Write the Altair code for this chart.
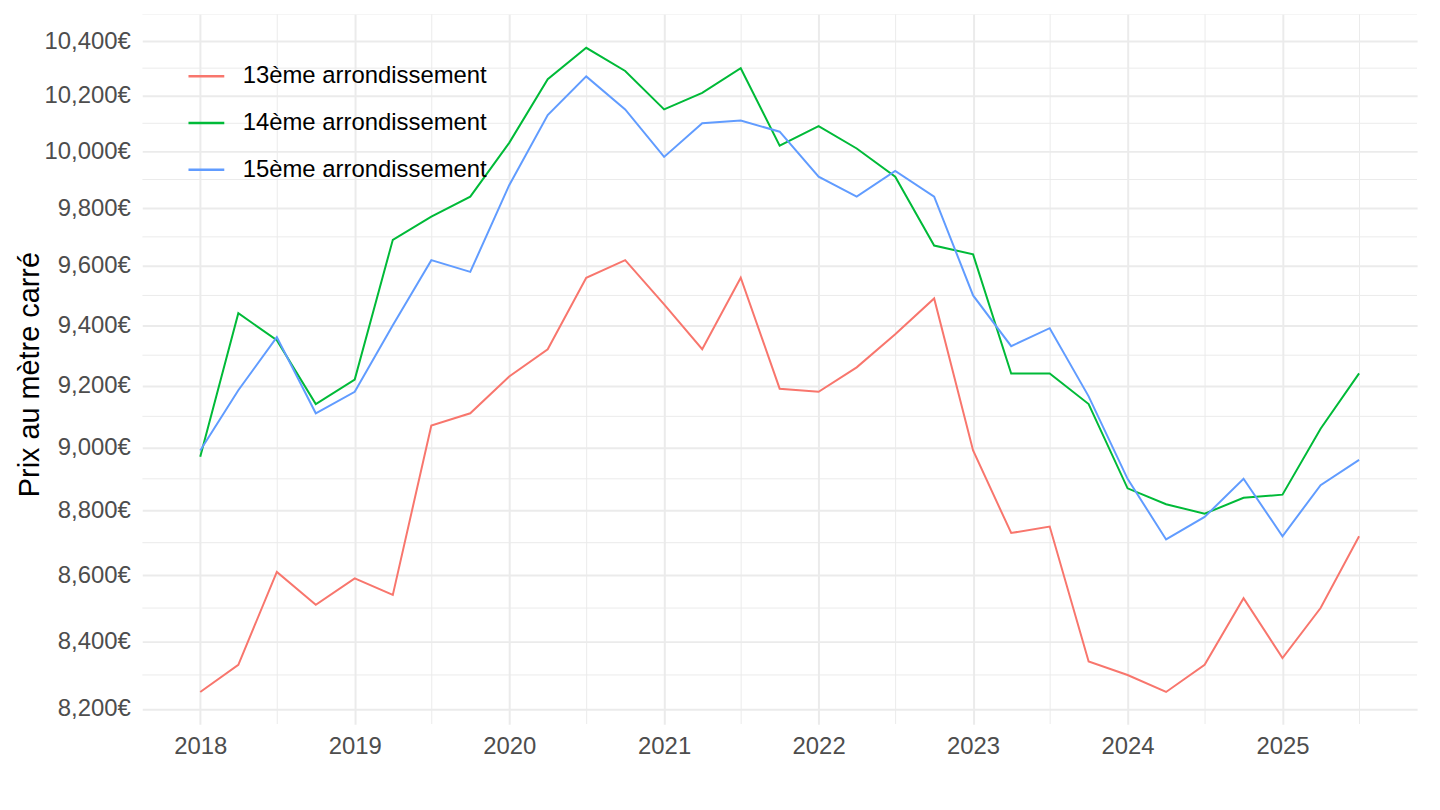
import altair as alt
import pandas as pd

dates = ["2018-01-01", "2018-04-01", "2018-07-01", "2018-10-01",
         "2019-01-01", "2019-04-01", "2019-07-01", "2019-10-01",
         "2020-01-01", "2020-04-01", "2020-07-01", "2020-10-01",
         "2021-01-01", "2021-04-01", "2021-07-01", "2021-10-01",
         "2022-01-01", "2022-04-01", "2022-07-01", "2022-10-01",
         "2023-01-01", "2023-04-01", "2023-07-01", "2023-10-01",
         "2024-01-01", "2024-04-01", "2024-07-01", "2024-10-01",
         "2025-01-01", "2025-04-01", "2025-07-01"]

arr13 = [8250, 8330, 8610, 8510, 8590, 8540, 9070, 9110, 9230, 9320, 9560, 9620,
         9470, 9320, 9560, 9190, 9180, 9260, 9370, 9490, 8990, 8730, 8750, 8340,
         8300, 8250, 8330, 8530, 8350, 8500, 8720]
arr14 = [8970, 9440, 9350, 9140, 9220, 9690, 9770, 9840, 10030, 10260, 10375, 10290,
         10150, 10210, 10300, 10020, 10090, 10010, 9910, 9670, 9640, 9240, 9240, 9140,
         8870, 8820, 8790, 8840, 8850, 9060, 9240]
arr15 = [8990, 9185, 9360, 9110, 9180, 9400, 9620, 9580, 9880, 10130, 10270, 10150,
         9980, 10100, 10110, 10070, 9910, 9840, 9930, 9840, 9500, 9330, 9390, 9165,
         8900, 8710, 8780, 8900, 8720, 8880, 8960]

series_names = ["13ème arrondissement", "14ème arrondissement", "15ème arrondissement"]
series_colors = ["#F8766D", "#00BA38", "#619CFF"]

y_major = [8200, 8400, 8600, 8800, 9000, 9200, 9400, 9600, 9800, 10000, 10200, 10400]
y_minor = [8300, 8500, 8700, 8900, 9100, 9300, 9500, 9700, 9900, 10100, 10300, 10500]
x_major = ["2018-01-01", "2019-01-01", "2020-01-01", "2021-01-01", "2022-01-01",
           "2023-01-01", "2024-01-01", "2025-01-01"]
x_minor = ["2018-07-02", "2019-07-02", "2020-07-02", "2021-07-02", "2022-07-02",
           "2023-07-02", "2024-07-02", "2025-07-02"]

rows = []
for name, vals in zip(series_names, [arr13, arr14, arr15]):
    for d, v in zip(dates, vals):
        rows.append({"date": d, "prix": v, "serie": name})
df = pd.DataFrame(rows)

FONT = "Liberation Sans"
x_scale = alt.Scale(domain=["2017-08-17", "2025-11-15"], nice=False)
y_scale = alt.Scale(type="log", domain=[8156, 10500], nice=False, zero=False)

x_axis = alt.Axis(
    title=None, values=[pd.Timestamp(v).isoformat() for v in x_major], format="%Y",
    labelFontSize=24, labelColor="#4D4D4D", labelFont=FONT, labelPadding=11,
    ticks=False, domain=False, grid=True, gridColor="#EBEBEB", gridWidth=2,
)
y_axis = alt.Axis(
    title="Prix au mètre carré", values=y_major,
    labelExpr="format(datum.value, ',') + '€'",
    labelFontSize=24, labelColor="#4D4D4D", labelFont=FONT, labelPadding=12,
    ticks=False, domain=False, grid=True, gridColor="#EBEBEB", gridWidth=2,
    titleFontSize=29, titleFont=FONT, titleColor="#000000", titleFontWeight="normal",
    titleX=-104, titleY=362, titleBaseline="alphabetic", titleAlign="center", titleAngle=-90,
)

lines = alt.Chart(df).mark_line(strokeWidth=2, clip=True).encode(
    x=alt.X("date:T", scale=x_scale, axis=x_axis),
    y=alt.Y("prix:Q", scale=y_scale, axis=y_axis),
    color=alt.Color(
        "serie:N",
        scale=alt.Scale(domain=series_names, range=series_colors),
        legend=alt.Legend(
            title=None, orient="none", legendX=45, legendY=43, padding=0,
            symbolType="stroke", symbolSize=1296, symbolStrokeWidth=2.5,
            labelFontSize=24, labelFont=FONT, labelColor="#000000",
            labelOffset=17, rowPadding=15, labelLimit=0,
        ),
    ),
)

minor_y = alt.Chart(pd.DataFrame({"v": y_minor})).mark_rule(
    color="#EBEBEB", strokeWidth=1, clip=True
).encode(y=alt.Y("v:Q", scale=y_scale, axis=y_axis))

minor_x = alt.Chart(pd.DataFrame({"d": x_minor})).mark_rule(
    color="#EBEBEB", strokeWidth=1, clip=True
).encode(x=alt.X("d:T", scale=x_scale, axis=x_axis))

chart = alt.layer(minor_y, minor_x, lines).properties(
    width=1282, height=714,
    background="white",
    autosize=alt.AutoSizeParams(type="none"),
    padding={"left": 135, "top": 4, "right": 15, "bottom": 60},
).configure_view(strokeWidth=0, stroke=None)

chart.save("out.html", embed_options={"renderer": "svg", "actions": False})
